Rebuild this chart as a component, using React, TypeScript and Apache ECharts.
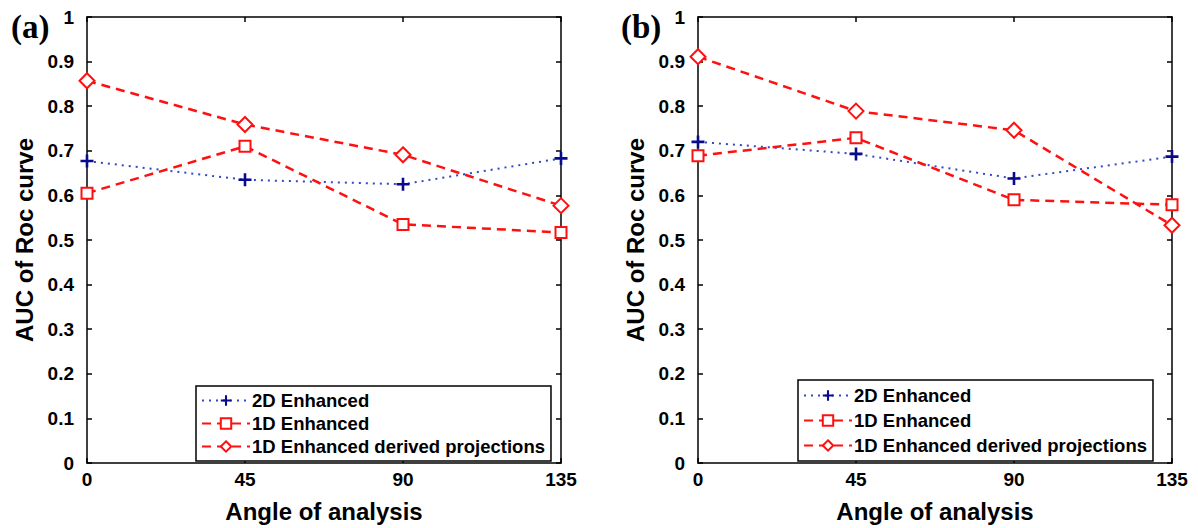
import React, { useEffect, useRef } from "react";
import * as echarts from "echarts";

const angles = [0, 45, 90, 135];
const yTicks = [0, 0.1, 0.2, 0.3, 0.4, 0.5, 0.6, 0.7, 0.8, 0.9, 1];
const seriesNames = ["2D Enhanced", "1D Enhanced", "1D Enhanced derived projections"];

const a2D = [0.677, 0.635, 0.625, 0.683];
const a1D = [0.605, 0.71, 0.535, 0.517];
const a1DDerived = [0.857, 0.759, 0.691, 0.577];

const b2D = [0.72, 0.693, 0.638, 0.687];
const b1D = [0.689, 0.729, 0.59, 0.579];
const b1DDerived = [0.911, 0.789, 0.746, 0.533];

const panelLabels = ["(a)", "(b)"];
const xTitle = "Angle of analysis";
const yTitle = "AUC of Roc curve";

const FONT = "'Liberation Sans', Arial, Helvetica, sans-serif";
const PLUS = "path://M4,0 H6 V4 H10 V6 H6 V10 H4 V6 H0 V4 H4 Z";
const RED = "#ff1010";
const NAVY = "#0a0a8c";

export default function App() {
  const ref = useRef<HTMLDivElement>(null);
  useEffect(() => {
    const chart = echarts.init(ref.current!, null, { renderer: "svg" });
    const grids = [
      { left: 87, top: 17, width: 474, height: 450 },
      { left: 698, top: 17, width: 474, height: 450 },
    ];
    const xAxes: any[] = [];
    const yAxes: any[] = [];
    grids.forEach((_, gi) => {
      xAxes.push({
        type: "value", gridIndex: gi, min: 0, max: 135, interval: 45,
        name: xTitle, nameLocation: "middle", nameGap: 36,
        nameTextStyle: { fontFamily: FONT, fontWeight: "bold", fontSize: 24, color: "#000" },
        axisLine: { onZero: false, lineStyle: { color: "#000", width: 1.5 } },
        axisTick: { inside: true, length: 5, lineStyle: { color: "#000", width: 1.5 } },
        axisLabel: { margin: 7, fontFamily: FONT, fontWeight: "bold", fontSize: 19, color: "#000",
          showMinLabel: true, showMaxLabel: true },
        splitLine: { show: false },
      });
      xAxes.push({
        type: "value", gridIndex: gi, position: "top", min: 0, max: 135, interval: 45,
        axisLine: { onZero: false, lineStyle: { color: "#000", width: 1.5 } },
        axisTick: { inside: true, length: 5, lineStyle: { color: "#000", width: 1.5 } },
        axisLabel: { show: false }, splitLine: { show: false },
      });
      yAxes.push({
        type: "value", gridIndex: gi, min: 0, max: 1, interval: 0.1,
        name: yTitle, nameLocation: "middle", nameGap: 51,
        nameTextStyle: { fontFamily: FONT, fontWeight: "bold", fontSize: 24, color: "#000" },
        axisLine: { show: true, onZero: false, lineStyle: { color: "#000", width: 1.5 } },
        axisTick: { show: true, inside: true, length: 5, lineStyle: { color: "#000", width: 1.5 } },
        axisLabel: { margin: 13, fontFamily: FONT, fontWeight: "bold", fontSize: 19, color: "#000",
          formatter: (v: number) => (v === 0 ? "0" : v === 1 ? "1" : v.toFixed(1)) },
        splitLine: { show: false },
      });
      yAxes.push({
        type: "value", gridIndex: gi, position: "right", min: 0, max: 1, interval: 0.1,
        axisLine: { show: true, onZero: false, lineStyle: { color: "#000", width: 1.5 } },
        axisTick: { show: true, inside: true, length: 5, lineStyle: { color: "#000", width: 1.5 } },
        axisLabel: { show: false }, splitLine: { show: false },
      });
    });

    const panelData = [
      [a2D, a1D, a1DDerived],
      [b2D, b1D, b1DDerived],
    ];
    const series: any[] = [];
    panelData.forEach((sets, gi) => {
      const xi = gi * 2;
      const yi = gi * 2;
      series.push({
        name: seriesNames[0], type: "line", xAxisIndex: xi, yAxisIndex: yi,
        data: angles.map((a, i) => [a, sets[0][i]]),
        symbol: PLUS, symbolSize: 13, showAllSymbol: true,
        lineStyle: { color: "#3447c4", width: 2, type: [2, 5] },
        itemStyle: { color: NAVY, borderWidth: 0 },
        z: 3,
      });
      series.push({
        name: seriesNames[1], type: "line", xAxisIndex: xi, yAxisIndex: yi,
        data: angles.map((a, i) => [a, sets[1][i]]),
        symbol: "emptyRect", symbolSize: 11,
        lineStyle: { color: RED, width: 2.5, type: [9, 6] },
        itemStyle: { color: RED, borderColor: RED, borderWidth: 2 },
        z: 4,
      });
      series.push({
        name: seriesNames[2], type: "line", xAxisIndex: xi, yAxisIndex: yi,
        data: angles.map((a, i) => [a, sets[2][i]]),
        symbol: "emptyDiamond", symbolSize: 15,
        lineStyle: { color: RED, width: 2.5, type: [9, 6] },
        itemStyle: { color: RED, borderColor: RED, borderWidth: 2 },
        z: 5,
      });
    });

    const legendCommon = {
      orient: "vertical", data: seriesNames, itemWidth: 48, itemHeight: 13, itemGap: 4,
      padding: [5, 6, 5, 5], borderColor: "#000", borderWidth: 1.5, backgroundColor: "#fff",
      selectedMode: false,
      textStyle: { fontFamily: FONT, fontWeight: "bold", fontSize: 18.5, color: "#000", padding: [0, 0, 0, -3] },
    };

    chart.setOption({
      animation: false,
      backgroundColor: "#fff",
      grid: grids,
      xAxis: xAxes,
      yAxis: yAxes,
      series,
      legend: [
        { ...legendCommon, left: 196, top: 386 },
        { ...legendCommon, left: 798, top: 380, itemGap: 6, padding: [6, 6, 6, 5] },
      ],
      graphic: [
        { type: "text", left: 11, top: 10, style: { text: panelLabels[0], font: "bold 33px 'Liberation Serif', 'Times New Roman', serif", fill: "#000" } },
        { type: "text", left: 621, top: 10, style: { text: panelLabels[1], font: "bold 33px 'Liberation Serif', 'Times New Roman', serif", fill: "#000" } },
      ],
    });
    return () => chart.dispose();
  }, []);
  return <div ref={ref} style={{ position: "fixed", left: 0, top: 0, width: 1198, height: 528 }} />;
}
